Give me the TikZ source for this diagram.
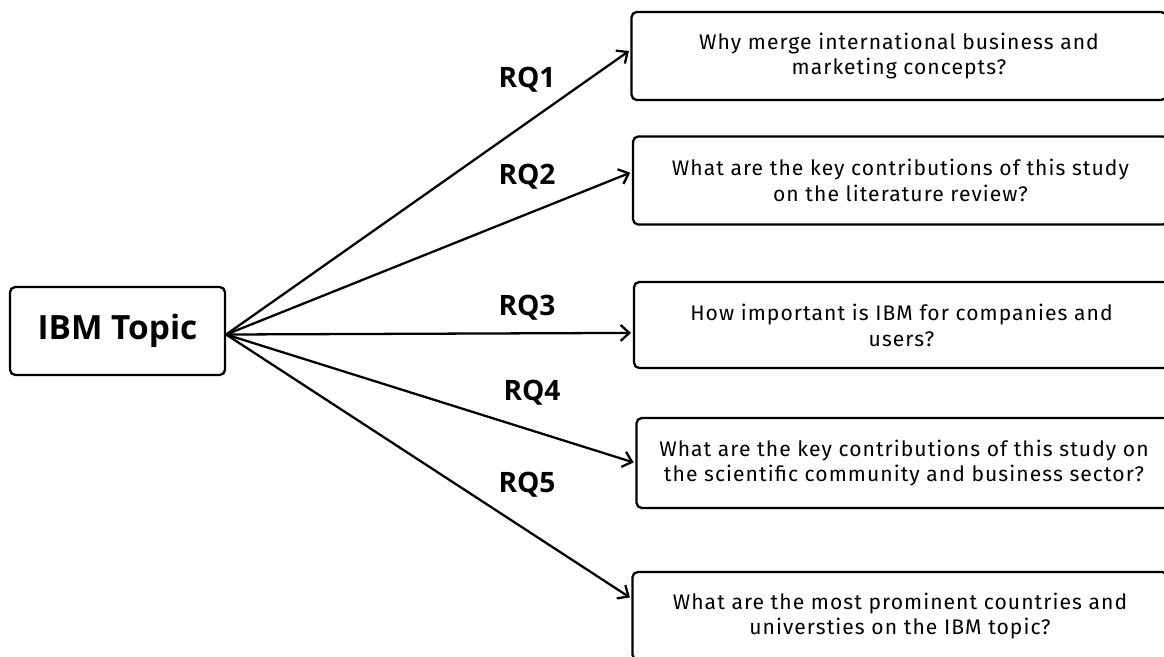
\documentclass[tikz,border=0pt]{standalone}
\usepackage{fontspec}
\usepackage{tikz}
\usetikzlibrary{arrows.meta}
\newfontfamily\qfont{Fira Sans}[LetterSpace=5]
\newfontfamily\lblfont{Open Sans}

\tikzset{
	qbox/.style={draw, line width=1.3pt, rounded corners=3pt, minimum width=10.7cm, minimum height=1.76cm, align=center, font=\qfont\fontsize{12}{14.7}\selectfont},
	rq/.style={font=\lblfont\bfseries\fontsize{16}{19}\selectfont},
	arr/.style={-{Straight Barb[length=5pt,width=9pt]}, line width=1.3pt, shorten >=1pt}
}

\begin{document}
\begin{tikzpicture}[scale=1]
	
	%\draw[help lines] (0,0) grid (23,13);
	\useasboundingbox (0,0) rectangle (23.28,13.12);
	\clip (0,0) rectangle (23.28,13.12);
	
	\node[draw, line width=1.3pt, rounded corners=3pt, minimum width=4.3cm, minimum height=1.76cm, font=\lblfont\bfseries\fontsize{19}{22}\selectfont] (ibm) at (2.35, 6.5) {IBM Topic}; % topic
	
	\node[qbox] (q1) at (17.98, 12.0) {Why merge international business and\\marketing concepts?}; % 1
	\node[qbox] (q2) at (18.01, 9.51) {What are the key contributions of this study\\on the literature review?}; % 2
	\node[qbox, minimum height=1.72cm] (q3) at (18.03, 6.62) {How important is IBM for companies and\\users?}; % 3
	\node[qbox, minimum height=1.8cm] (q4) at (18.08, 3.86) {What are the key contributions of this study on\\the scientific community and business sector?}; % 4
	\node[qbox] (q5) at (18.0, 0.8) {What are the most prominent countries and\\universties on the IBM topic?}; % 5
	
	\draw[arr] ([yshift=-2pt]ibm.east) -- ([yshift=3.4pt]q1.west);
	\draw[arr] ([yshift=-2pt]ibm.east) -- ([yshift=4.8pt]q2.west);
	\draw[arr] ([yshift=-2pt]ibm.east) -- ([yshift=-4.5pt]q3.west);
	\draw[arr] ([yshift=-2pt]ibm.east) -- (q4.west);
	\draw[arr] ([yshift=-2pt]ibm.east) -- ([yshift=10pt]q5.west);
	
	\node[rq] (rq1) at (10.54, 11.52) {RQ1};
	\node[rq] (rq2) at (10.54, 9.58) {RQ2};
	\node[rq] (rq3) at (10.54, 6.96) {RQ3};
	\node[rq] (rq4) at (10.64, 5.26) {RQ4};
	\node[rq] (rq5) at (10.54, 3.42) {RQ5};

\end{tikzpicture}
\end{document}
